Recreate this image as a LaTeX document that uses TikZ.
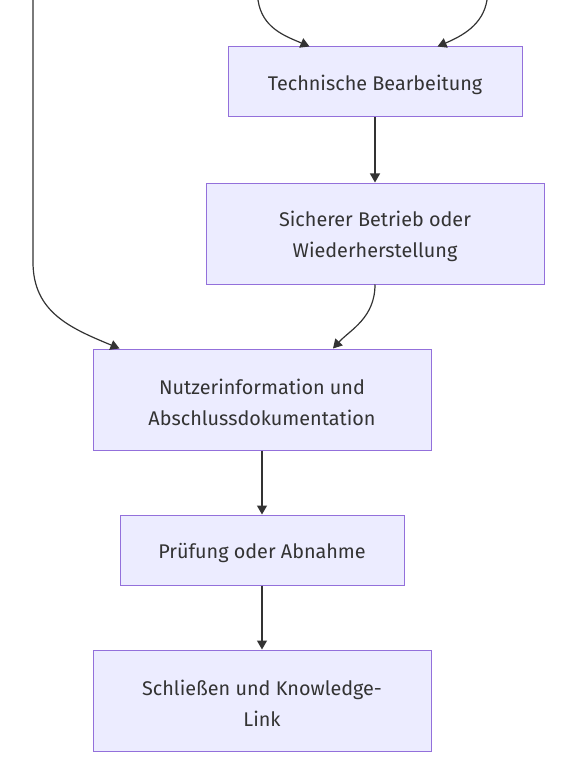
\documentclass[tikz,border=0pt]{standalone}
\usepackage{fontspec}
\setmainfont{Fira Sans}
\usetikzlibrary{arrows.meta}
\definecolor{boxfill}{HTML}{ECECFF}
\definecolor{boxline}{HTML}{9370DB}
\definecolor{ink}{HTML}{333333}
\newcommand{\lowr}[1]{\raisebox{-2.5pt}[\height][\depth]{#1}}
\tikzset{
  flowbox/.style={draw=boxline, fill=boxfill, line width=1pt, text=ink,
    align=center, inner sep=0pt, font=\fontsize{19.8}{31}\selectfont},
  link/.style={draw=ink, line width=1.2pt, -{Triangle[length=9pt,width=10pt]}}
}
\begin{document}
\begin{tikzpicture}[x=1pt,y=-1pt]
\useasboundingbox (0,0) rectangle (563,770);
\node[flowbox, minimum width=294pt, minimum height=70pt] (tech) at (375,82) {\lowr{Technische Bearbeitung}};
\node[flowbox, minimum width=338pt, minimum height=101pt] (betrieb) at (375,233.5) {\lowr{Sicherer Betrieb oder}\\ \lowr{Wiederherstellung}};
\node[flowbox, minimum width=338pt, minimum height=101pt] (nutzer) at (262,399.5) {\lowr{Nutzerinformation und}\\\lowr{Abschlussdokumentation}};
\node[flowbox, minimum width=284pt, minimum height=70pt] (pruef) at (262,550) {\lowr{Prüfung oder Abnahme}};
\node[flowbox, minimum width=338pt, minimum height=101pt] (schl) at (262,700.5) {\lowr{Schließen und Knowledge-}\\\lowr{Link}};
\coordinate (inA) at (33,0);
\coordinate (inB) at (258,0);
\coordinate (inC) at (487,0);
\draw[link] (inA) -- (33,262) .. controls (33,312) and (70,328) .. ([xshift=27pt]nutzer.north west);
\draw[link] (inB) .. controls (262,28) and (285,36) .. ([xshift=82pt]tech.north west);
\draw[link] (inC) .. controls (483,25) and (462,36) .. ([xshift=-85pt]tech.north east);
\draw[link] (tech.south) -- (betrieb.north);
\draw[link] (betrieb.south) .. controls (375,318) and (350,330) .. ([xshift=71pt]nutzer.north);
\draw[link] (nutzer.south) -- (pruef.north);
\draw[link] (pruef.south) -- (schl.north);
\end{tikzpicture}
\end{document}
